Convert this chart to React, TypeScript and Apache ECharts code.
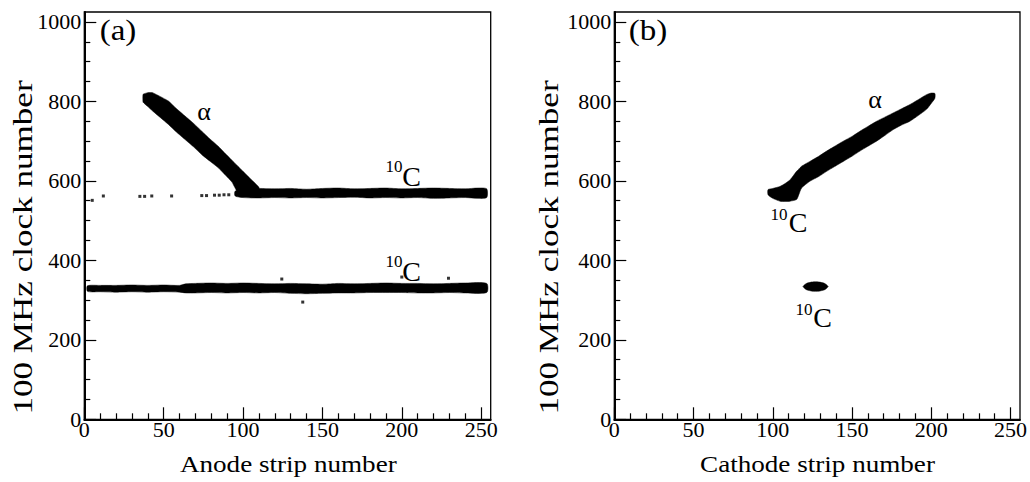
import React, { useEffect, useRef } from "react";
import * as echarts from "echarts";

// Axis ticks
const xMajorTicks = [0, 50, 100, 150, 200, 250];
const xMinorTicks = [10, 20, 30, 40, 60, 70, 80, 90, 110, 120, 130, 140, 160, 170, 180, 190, 210, 220, 230, 240];
const yMajorTicks = [0, 200, 400, 600, 800, 1000];
const yMinorTicks = [50, 100, 150, 250, 300, 350, 450, 500, 550, 650, 700, 750, 850, 900, 950];

// Panel (a): alpha track (strip, low clock, high clock)
const alphaA_x = [37, 40, 43, 48, 53, 58, 63.5, 69, 74, 79, 84.4, 89, 93, 96, 100, 105, 110];
const alphaA_hi = [818, 822, 822, 812, 801, 782, 763, 744, 725, 706, 687, 668, 652, 640, 624, 604, 584];
const alphaA_lo = [798, 787, 776, 759, 742, 723, 704, 685, 666, 650, 633, 614, 597, 575, 562, 558, 560];

// Panel (a): 10C band (upper)
const cA_x = [95, 100, 110, 120, 130, 140, 150, 160, 170, 180, 190, 200, 210, 220, 230, 240, 248, 253.5];
const cA_hi = [574, 579, 581, 580, 581, 579, 581, 582, 580, 581, 582, 580, 581, 582, 581, 580, 582, 580];
const cA_lo = [562, 558, 557, 558, 557, 558, 557, 558, 559, 557, 558, 557, 558, 556, 557, 558, 556, 558];

// Panel (a): 10C band (lower)
const lA_x = [2, 10, 20, 30, 40, 50, 60, 64, 70, 80, 90, 100, 110, 120, 130, 140, 150, 160, 170, 180, 190, 200, 210, 220, 230, 240, 253.5];
const lA_hi = [336, 337, 337, 338, 337, 338, 337, 341, 342, 343, 342, 343, 342, 341, 342, 341, 340, 342, 341, 342, 343, 342, 342, 341, 342, 343, 342];
const lA_lo = [322, 321, 320, 321, 320, 321, 320, 318, 318, 319, 318, 319, 318, 319, 317, 316, 317, 318, 318, 319, 319, 319, 318, 318, 319, 318, 319];

// Panel (a): isolated hits
const strayA_x = [5, 12, 35, 38, 42.5, 55, 74, 77, 82, 85, 88, 91, 124.4, 137.6, 200, 229.4];
const strayA_y = [551, 562, 561, 561, 562, 562, 563, 563, 564, 564, 565, 565, 353, 295, 358, 355];

// Panel (b): alpha + 10C track
const alphaB_x = [97, 100, 104.5, 108, 111, 115, 116.5, 118.2, 123.4, 129, 134, 139, 144.5, 150, 155, 160, 165.5, 171, 176, 181, 186.5, 192, 197, 200, 202.3];
const alphaB_hi = [578, 581, 586, 594, 603, 624, 630, 637, 649, 662, 675, 687, 700, 712, 725, 737, 750, 761, 771, 781, 792, 805, 817, 821, 820];
const alphaB_lo = [565, 556, 549, 548, 549, 553, 566, 582, 599, 611, 624, 636, 649, 662, 675, 687, 700, 715, 729, 740, 750, 765, 780, 795, 808];

// Panel (b): 10C blob
const blobB_x = [119, 120.5, 123, 127, 131, 133.5, 135];
const blobB_hi = [334, 340, 344, 346, 344, 340, 334];
const blobB_lo = [334, 328, 324, 322, 324, 328, 334];

const FONT = "'Liberation Serif', 'Times New Roman', Times, serif";

function band(xs: number[], lo: number[], hi: number[], panel: number, smooth = 0.25) {
  return {
    type: "custom",
    xAxisIndex: panel * 2,
    yAxisIndex: panel * 2,
    clip: true,
    silent: true,
    data: [[xs[0], lo[0]]],
    renderItem: (_params: any, api: any) => {
      const top = xs.map((x, i) => api.coord([x, hi[i]]));
      const bot = xs.map((x, i) => api.coord([x, lo[i]])).reverse();
      return {
        type: "polygon",
        shape: { points: top.concat(bot), smooth },
        style: { fill: "#000", stroke: "#000", lineWidth: 0.5 },
      };
    },
  };
}

const plainLabel = (v: number) => String(v);

function axesFor(gridIndex: number) {
  const common = { gridIndex, type: "value" as const, splitLine: { show: false } };
  const xMajor = {
    ...common,
    position: "bottom",
    min: 0,
    max: 256,
    axisLine: { show: true, onZero: false, lineStyle: { color: "#000", width: 2 } },
    axisTick: { show: true, inside: true, length: 12, customValues: xMajorTicks, lineStyle: { color: "#000", width: 1.2 } },
    axisLabel: { show: true, customValues: xMajorTicks, formatter: plainLabel, color: "#000", fontFamily: FONT, fontSize: 22, margin: -1 },
  };
  const xMinor = {
    ...common,
    position: "bottom",
    min: 0,
    max: 256,
    axisLine: { show: false, onZero: false },
    axisTick: { show: true, inside: true, length: 6, customValues: xMinorTicks, lineStyle: { color: "#000", width: 1.2 } },
    axisLabel: { show: false },
  };
  const yMajor = {
    ...common,
    position: "left",
    min: 0,
    max: 1025,
    axisLine: { show: true, onZero: false, lineStyle: { color: "#000", width: 2 } },
    axisTick: { show: true, inside: true, length: 12, customValues: yMajorTicks, lineStyle: { color: "#000", width: 1.2 } },
    axisLabel: { show: true, customValues: yMajorTicks, formatter: plainLabel, color: "#000", fontFamily: FONT, fontSize: 22, margin: 3 },
  };
  const yMinor = {
    ...common,
    position: "left",
    min: 0,
    max: 1025,
    axisLine: { show: false, onZero: false },
    axisTick: { show: true, inside: true, length: 6, customValues: yMinorTicks, lineStyle: { color: "#000", width: 1.2 } },
    axisLabel: { show: false },
  };
  return { x: [xMajor, xMinor], y: [yMajor, yMinor] };
}

function txt(text: string, x: number, y: number, size: number, extra: any = {}) {
  return {
    type: "text",
    x,
    y,
    silent: true,
    z: 100,
    ...extra,
    style: {
      text,
      fill: "#000",
      fontFamily: FONT,
      fontSize: size,
      align: "center",
      verticalAlign: "middle",
    },
  };
}

export default function App() {
  const ref = useRef<HTMLDivElement>(null);
  useEffect(() => {
    if (!ref.current) return;
    const chart = echarts.init(ref.current, null, { renderer: "svg" });
    const a = axesFor(0);
    const b = axesFor(1);
    const option: any = {
      animation: false,
      backgroundColor: "#fff",
      grid: [
        { left: 84.3, right: 539.3, top: 12, bottom: 62.7, show: true, borderColor: "#000", borderWidth: 1.3, backgroundColor: "transparent", outerBoundsMode: "none" },
        { left: 614.3, right: 10, top: 12, bottom: 62.7, show: true, borderColor: "#000", borderWidth: 1.3, backgroundColor: "transparent", outerBoundsMode: "none" },
      ],
      xAxis: [...a.x, ...b.x],
      yAxis: [...a.y, ...b.y],
      series: [
        band(alphaA_x, alphaA_lo, alphaA_hi, 0, 0.1),
        band(cA_x, cA_lo, cA_hi, 0),
        band(lA_x, lA_lo, lA_hi, 0),
        {
          type: "scatter",
          xAxisIndex: 0,
          yAxisIndex: 0,
          symbol: "rect",
          symbolSize: 3,
          itemStyle: { color: "#000" },
          silent: true,
          data: strayA_x.map((x, i) => [x, strayA_y[i]]),
        },
        band(alphaB_x, alphaB_lo, alphaB_hi, 1, 0.2),
        band(blobB_x, blobB_lo, blobB_hi, 1, 0.5),
      ],
      graphic: [
        txt("(a)", 118, 30.5, 29, { scaleX: 1.14 }),
        txt("(b)", 648, 30.5, 29, { scaleX: 1.14 }),
        txt("α", 204, 111.3, 26),
        txt("α", 875, 99.8, 26),
        txt("10", 394, 166, 17),
        txt("C", 411.5, 176.5, 28),
        txt("10", 394, 261, 17),
        txt("C", 411.5, 271, 28),
        txt("10", 779, 214, 17),
        txt("C", 798, 222.5, 28),
        txt("10", 804, 309, 17),
        txt("C", 822.5, 317.5, 28),
        txt("Anode strip number", 288.3, 463.6, 24, { scaleX: 1.13 }),
        txt("Cathode strip number", 817.5, 463.6, 24, { scaleX: 1.13 }),
        txt("100 MHz clock number", 22.6, 247.5, 27, { rotation: Math.PI / 2, scaleX: 1.3 }),
        txt("100 MHz clock number", 549, 247.5, 27, { rotation: Math.PI / 2, scaleX: 1.3 }),
      ],
    };
    chart.setOption(option);
    return () => chart.dispose();
  }, []);
  return (
    <div
      ref={ref}
      style={{ position: "absolute", left: 0, top: 0, width: 1030, height: 482, background: "#fff" }}
    />
  );
}
